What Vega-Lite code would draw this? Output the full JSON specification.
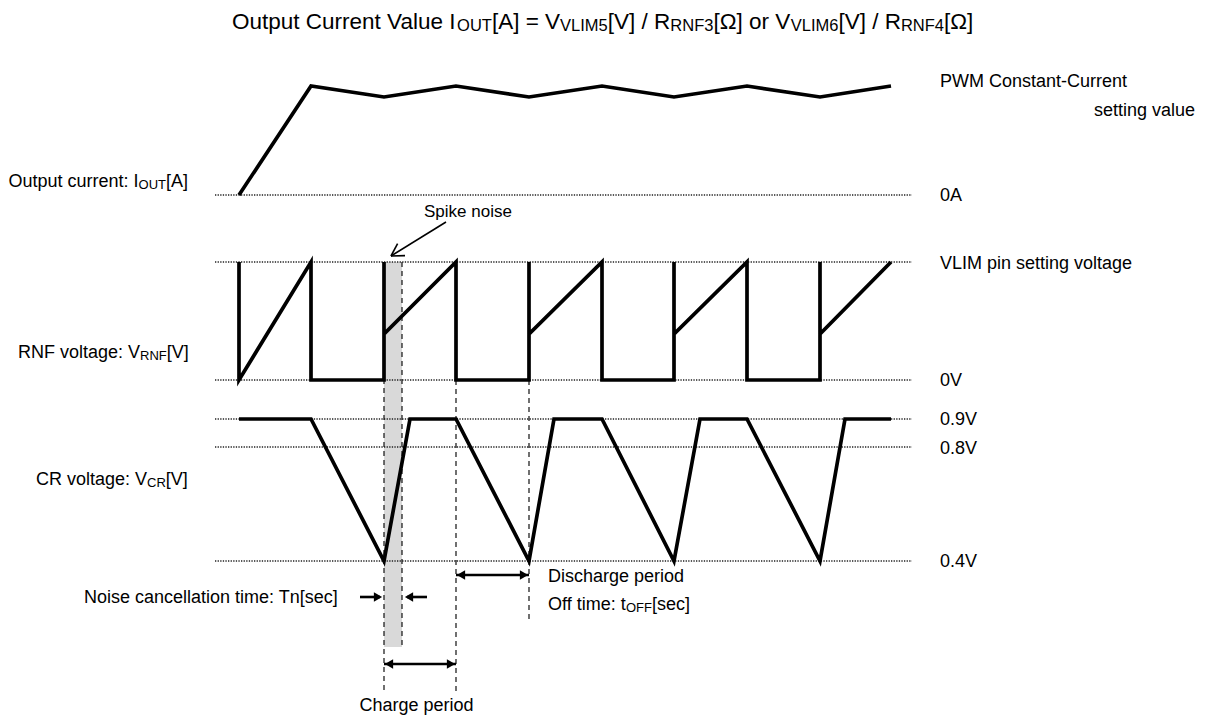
{
  "$schema": "https://vega.github.io/schema/vega-lite/v6.json",
  "width": 1205,
  "height": 717,
  "padding": 0,
  "autosize": {"type": "none"},
  "background": "white",
  "config": {"view": {"stroke": null}, "text": {"font": "Liberation Sans", "color": "black"}},
  "datasets": {
    "refs": [
      {"x": 215, "x2": 912, "y": 195},
      {"x": 215, "x2": 912, "y": 262},
      {"x": 215, "x2": 912, "y": 380},
      {"x": 215, "x2": 912, "y": 419},
      {"x": 215, "x2": 912, "y": 447},
      {"x": 215, "x2": 912, "y": 561}
    ],
    "dashes": [
      {"x": 384, "y": 262, "y2": 693},
      {"x": 402, "y": 262, "y2": 647},
      {"x": 456, "y": 380, "y2": 693},
      {"x": 529, "y": 380, "y2": 622}
    ],
    "band": [{"x": 384, "x2": 402, "y": 262, "y2": 647}],
    "waves": [
      {"sig": "I", "i": 0, "x": 239, "y": 195},
      {"sig": "I", "i": 1, "x": 311, "y": 86},
      {"sig": "I", "i": 2, "x": 384, "y": 97},
      {"sig": "I", "i": 3, "x": 456, "y": 86},
      {"sig": "I", "i": 4, "x": 529, "y": 97},
      {"sig": "I", "i": 5, "x": 602, "y": 86},
      {"sig": "I", "i": 6, "x": 674, "y": 97},
      {"sig": "I", "i": 7, "x": 747, "y": 86},
      {"sig": "I", "i": 8, "x": 820, "y": 97},
      {"sig": "I", "i": 9, "x": 891, "y": 86},
      {"sig": "RNF", "i": 0, "x": 239, "y": 262},
      {"sig": "RNF", "i": 1, "x": 239, "y": 380},
      {"sig": "RNF", "i": 2, "x": 311, "y": 262},
      {"sig": "RNF", "i": 3, "x": 311, "y": 380},
      {"sig": "RNF", "i": 4, "x": 384, "y": 380},
      {"sig": "RNF", "i": 5, "x": 384, "y": 262},
      {"sig": "RNF", "i": 6, "x": 384, "y": 334},
      {"sig": "RNF", "i": 7, "x": 456, "y": 262},
      {"sig": "RNF", "i": 8, "x": 456, "y": 380},
      {"sig": "RNF", "i": 9, "x": 529, "y": 380},
      {"sig": "RNF", "i": 10, "x": 529, "y": 262},
      {"sig": "RNF", "i": 11, "x": 529, "y": 334},
      {"sig": "RNF", "i": 12, "x": 602, "y": 262},
      {"sig": "RNF", "i": 13, "x": 602, "y": 380},
      {"sig": "RNF", "i": 14, "x": 674, "y": 380},
      {"sig": "RNF", "i": 15, "x": 674, "y": 262},
      {"sig": "RNF", "i": 16, "x": 674, "y": 334},
      {"sig": "RNF", "i": 17, "x": 747, "y": 262},
      {"sig": "RNF", "i": 18, "x": 747, "y": 380},
      {"sig": "RNF", "i": 19, "x": 820, "y": 380},
      {"sig": "RNF", "i": 20, "x": 820, "y": 262},
      {"sig": "RNF", "i": 21, "x": 820, "y": 334},
      {"sig": "RNF", "i": 22, "x": 891, "y": 262},
      {"sig": "CR", "i": 0, "x": 239, "y": 419},
      {"sig": "CR", "i": 1, "x": 311, "y": 419},
      {"sig": "CR", "i": 2, "x": 384, "y": 561},
      {"sig": "CR", "i": 3, "x": 410, "y": 419},
      {"sig": "CR", "i": 4, "x": 456, "y": 419},
      {"sig": "CR", "i": 5, "x": 529, "y": 561},
      {"sig": "CR", "i": 6, "x": 554, "y": 419},
      {"sig": "CR", "i": 7, "x": 602, "y": 419},
      {"sig": "CR", "i": 8, "x": 674, "y": 561},
      {"sig": "CR", "i": 9, "x": 700, "y": 419},
      {"sig": "CR", "i": 10, "x": 747, "y": 419},
      {"sig": "CR", "i": 11, "x": 820, "y": 561},
      {"sig": "CR", "i": 12, "x": 845, "y": 419},
      {"sig": "CR", "i": 13, "x": 891, "y": 419}
    ],
    "thin": [
      {"x": 446, "y": 222, "x2": 391, "y2": 256},
      {"x": 391, "y": 256, "x2": 405, "y2": 255.6},
      {"x": 391, "y": 256, "x2": 397.6, "y2": 243.7}
    ],
    "thick": [
      {"x": 456, "y": 575, "x2": 529, "y2": 575},
      {"x": 384, "y": 664, "x2": 456, "y2": 664},
      {"x": 360, "y": 597, "x2": 380, "y2": 597},
      {"x": 407, "y": 597, "x2": 427, "y2": 597}
    ],
    "headsR": [
      {"x": 524, "y": 575},
      {"x": 451, "y": 664},
      {"x": 378, "y": 597}
    ],
    "headsL": [
      {"x": 461, "y": 575},
      {"x": 389, "y": 664},
      {"x": 409, "y": 597}
    ],
    "titleMain": [
      {"x": 232, "y": 29, "t": "Output Current Value I"},
      {"x": 491.9, "y": 29, "t": "[A] = V"},
      {"x": 607.8, "y": 29, "t": "[V] / R"},
      {"x": 713.4, "y": 29, "t": "[Ω] or V"},
      {"x": 838.4, "y": 29, "t": "[V] / R"},
      {"x": 944.0, "y": 29, "t": "[Ω]"}
    ],
    "titleSub": [
      {"x": 457.1, "y": 31, "t": "OUT"},
      {"x": 560.1, "y": 31, "t": "VLIM5"},
      {"x": 670.3, "y": 31, "t": "RNF3"},
      {"x": 790.7, "y": 31, "t": "VLIM6"},
      {"x": 900.9, "y": 31, "t": "RNF4"}
    ],
    "labels": [
      {"x": 8.5, "y": 187, "t": "Output current: I"},
      {"x": 166.0, "y": 187, "t": "[A]"},
      {"x": 18, "y": 358, "t": "RNF voltage: V"},
      {"x": 166.7, "y": 358, "t": "[V]"},
      {"x": 36, "y": 485, "t": "CR voltage: V"},
      {"x": 165.8, "y": 485, "t": "[V]"},
      {"x": 84, "y": 603, "t": "Noise cancellation time: Tn[sec]"},
      {"x": 548, "y": 582, "t": "Discharge period"},
      {"x": 548, "y": 610, "t": "Off time: t"},
      {"x": 652, "y": 610, "t": "[sec]"},
      {"x": 359.4, "y": 711, "t": "Charge period"},
      {"x": 940, "y": 87, "t": "PWM Constant-Current"},
      {"x": 1094, "y": 116, "t": "setting value"},
      {"x": 940, "y": 201, "t": "0A"},
      {"x": 940, "y": 269, "t": "VLIM pin setting voltage"},
      {"x": 940, "y": 386, "t": "0V"},
      {"x": 940, "y": 425, "t": "0.9V"},
      {"x": 940, "y": 454, "t": "0.8V"},
      {"x": 940, "y": 567, "t": "0.4V"}
    ],
    "labelSub": [
      {"x": 138.6, "y": 189, "t": "OUT"},
      {"x": 140.0, "y": 360, "t": "RNF"},
      {"x": 147.0, "y": 487, "t": "CR"},
      {"x": 626, "y": 612, "t": "OFF"}
    ],
    "spike": [{"x": 424, "y": 217, "t": "Spike noise"}]
  },
  "encoding": {
    "x": {"field": "x", "type": "quantitative", "scale": {"domain": [0, 1205], "nice": false, "zero": false}, "axis": null},
    "y": {"field": "y", "type": "quantitative", "scale": {"domain": [0, 717], "nice": false, "zero": false, "reverse": true}, "axis": null}
  },
  "layer": [
    {"data": {"name": "band"}, "mark": {"type": "rect", "fill": "#d9d9d9"}, "encoding": {"x2": {"field": "x2"}, "y2": {"field": "y2"}}},
    {"data": {"name": "refs"}, "mark": {"type": "rule", "color": "#222", "strokeWidth": 1.6, "strokeDash": [1.3, 1.3]}, "encoding": {"x2": {"field": "x2"}}},
    {"data": {"name": "dashes"}, "mark": {"type": "rule", "color": "#111", "strokeWidth": 1.2, "strokeDash": [5, 4]}, "encoding": {"y2": {"field": "y2"}}},
    {"data": {"name": "waves"}, "mark": {"type": "line", "color": "black", "strokeWidth": 3.7, "strokeJoin": "miter"}, "encoding": {"detail": {"field": "sig"}, "order": {"field": "i", "type": "quantitative"}}},
    {"data": {"name": "thin"}, "mark": {"type": "rule", "color": "black", "strokeWidth": 1.6}, "encoding": {"x2": {"field": "x2"}, "y2": {"field": "y2"}}},
    {"data": {"name": "thick"}, "mark": {"type": "rule", "color": "black", "strokeWidth": 2.6}, "encoding": {"x2": {"field": "x2"}, "y2": {"field": "y2"}}},
    {"data": {"name": "headsR"}, "mark": {"type": "point", "shape": "triangle-right", "filled": true, "color": "black", "opacity": 1, "size": 90}},
    {"data": {"name": "headsL"}, "mark": {"type": "point", "shape": "triangle-left", "filled": true, "color": "black", "opacity": 1, "size": 90}},
    {"data": {"name": "titleMain"}, "mark": {"type": "text", "align": "left", "baseline": "alphabetic", "fontSize": 22.5}, "encoding": {"text": {"field": "t"}}},
    {"data": {"name": "titleSub"}, "mark": {"type": "text", "align": "left", "baseline": "alphabetic", "fontSize": 16.5}, "encoding": {"text": {"field": "t"}}},
    {"data": {"name": "labels"}, "mark": {"type": "text", "align": "left", "baseline": "alphabetic", "fontSize": 18}, "encoding": {"text": {"field": "t"}}},
    {"data": {"name": "labelSub"}, "mark": {"type": "text", "align": "left", "baseline": "alphabetic", "fontSize": 13}, "encoding": {"text": {"field": "t"}}},
    {"data": {"name": "spike"}, "mark": {"type": "text", "align": "left", "baseline": "alphabetic", "fontSize": 17}, "encoding": {"text": {"field": "t"}}}
  ]
}
